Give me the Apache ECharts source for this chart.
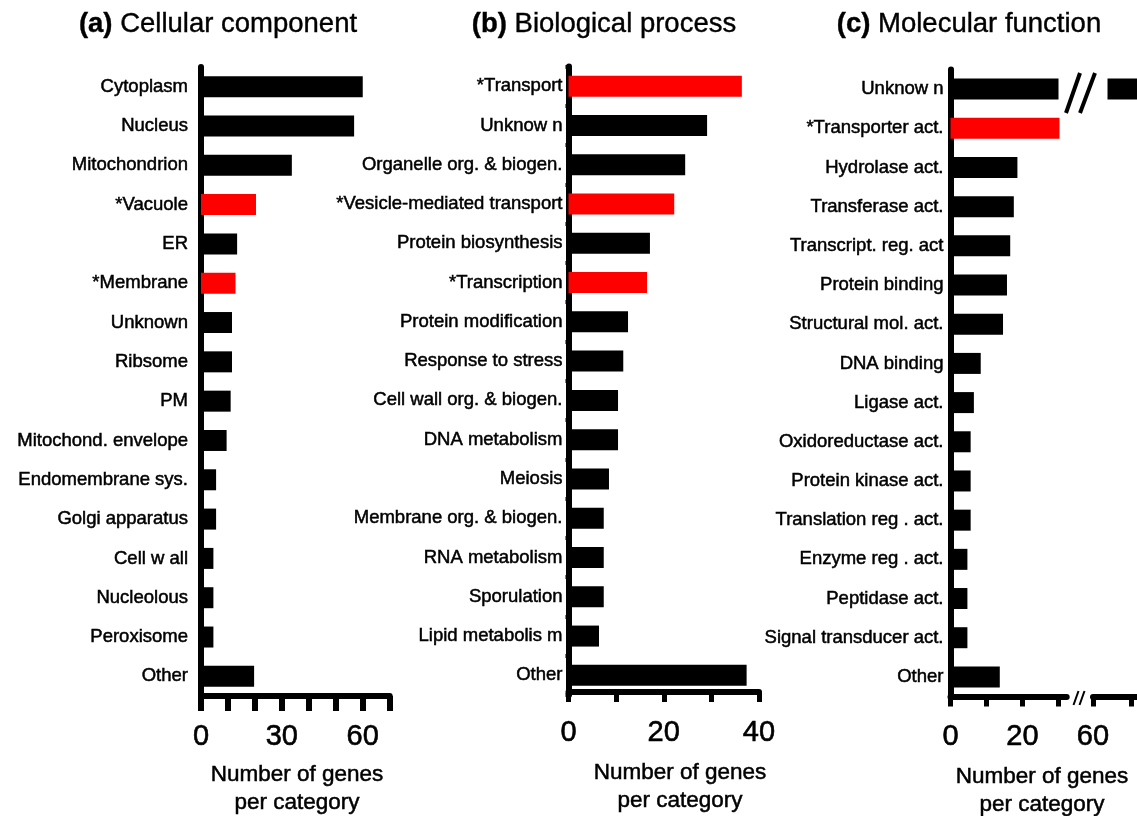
<!DOCTYPE html>
<html>
<head>
<meta charset="utf-8">
<script src="https://cdn.jsdelivr.net/npm/echarts@6/dist/echarts.min.js"></script>
<style>
  html, body { margin: 0; padding: 0; background: #fff; }
  #chart { width: 1137px; height: 816px; }
</style>
</head>
<body>
<div id="chart"></div>
<script>
// (a) Cellular component
const cellCategories = ['Cytoplasm', 'Nucleus', 'Mitochondrion', '*Vacuole', 'ER', '*Membrane', 'Unknown',
  'Ribsome', 'PM', 'Mitochond. envelope', 'Endomembrane sys.', 'Golgi apparatus', 'Cell w all',
  'Nucleolous', 'Peroxisome', 'Other'];
const cellCounts = [60.0, 56.8, 33.7, 20.4, 13.4, 12.8, 11.5, 11.5, 11.0, 9.5, 5.6, 5.6, 4.6, 4.6, 4.6, 19.7];
const cellTickLabels = [0, 30, 60];

// (b) Biological process
const procCategories = ['*Transport', 'Unknow n', 'Organelle org. & biogen.', '*Vesicle-mediated transport',
  'Protein biosynthesis', '*Transcription', 'Protein modification', 'Response to stress',
  'Cell wall org. & biogen.', 'DNA metabolism', 'Meiosis', 'Membrane org. & biogen.', 'RNA metabolism',
  'Sporulation', 'Lipid metabolis m', 'Other'];
const procCounts = [36.4, 29.1, 24.5, 22.2, 17.1, 16.5, 12.5, 11.5, 10.4, 10.4, 8.5, 7.4, 7.4, 7.4, 6.4, 37.4];
const procTickLabels = [0, 20, 40];

// (c) Molecular function
const funcCategories = ['Unknow n', '*Transporter act.', 'Hydrolase act.', 'Transferase act.',
  'Transcript. reg. act', 'Protein binding', 'Structural mol. act.', 'DNA binding', 'Ligase act.',
  'Oxidoreductase act.', 'Protein kinase act.', 'Translation reg . act.', 'Enzyme reg . act.',
  'Peptidase act.', 'Signal transducer act.', 'Other'];
const funcCounts = [72, 30.3, 18.6, 17.6, 16.6, 15.7, 14.6, 8.4, 6.5, 5.6, 5.6, 5.6, 4.7, 4.7, 4.7, 13.7];
const funcTickLabelsLow = [0, 20];
const funcTickLabelsHigh = [60];

const FONT = "'Liberation Sans', Arial, Helvetica, sans-serif";
const RED = '#ff0000';
const BLACK = '#000000';

// starred categories are highlighted in red
function toBars(categories, counts) {
  return counts.map((v, i) => ({
    value: v,
    itemStyle: { color: categories[i].startsWith('*') ? RED : BLACK }
  }));
}

function valueAxis(gridIndex, min, max, tickValues, labelValues, tickLen, tickWidth, extra) {
  return Object.assign({
    gridIndex, type: 'value', min, max,
    axisLine: { show: true, onZero: false, lineStyle: { color: BLACK, width: 6 } },
    axisTick: { show: true, customValues: tickValues, length: tickLen, lineStyle: { color: BLACK, width: tickWidth } },
    axisLabel: { show: true, customValues: labelValues, margin: 26, fontSize: 29, color: BLACK, fontFamily: FONT,
      textBorderColor: BLACK, textBorderWidth: 0.6 },
    splitLine: { show: false }
  }, extra || {});
}

function categoryAxis(gridIndex, data, margin, ticks) {
  return {
    gridIndex, type: 'category', data, inverse: true,
    axisLine: { show: true, lineStyle: { color: BLACK, width: 6 } },
    axisTick: ticks ? { show: true, length: 3, lineStyle: { color: BLACK, width: 4 } } : { show: false },
    axisLabel: { interval: 0, margin, fontSize: 18.5, color: BLACK, fontFamily: FONT,
      textBorderColor: BLACK, textBorderWidth: 0.5 }
  };
}

const range = (a, b, s) => { const r = []; for (let v = a; v <= b; v += s) r.push(v); return r; };

const axisName = (x, y) => ({
  type: 'text', x, y, z: 100,
  style: { text: 'Number of genes\nper category', fill: BLACK, stroke: BLACK, lineWidth: 0.5,
    font: '22.5px ' + FONT, align: 'center', verticalAlign: 'top', lineHeight: 28 }
});

const panelTitle = (x, tag, text) => ({
  type: 'text', x, y: 24, z: 100,
  style: {
    text: '{b|' + tag + '} ' + text, fill: BLACK, stroke: BLACK, lineWidth: 0.4,
    font: '27.5px ' + FONT, align: 'center', verticalAlign: 'middle',
    rich: { b: { fontWeight: 'bold', fontSize: 27.5, fontFamily: FONT, fill: BLACK } }
  }
});

const option = {
  backgroundColor: '#ffffff',
  animation: false,
  grid: [
    { left: 201, top: 67, width: 188.7, height: 629, outerBoundsMode: 'none' },
    { left: 568.5, top: 66.5, width: 190.5, height: 628.5, outerBoundsMode: 'none' },
    { left: 950.5, top: 69.5, width: 116.2, height: 627, outerBoundsMode: 'none' },
    { left: 1093, top: 69.5, width: 44, height: 627, outerBoundsMode: 'none' }
  ],
  xAxis: [
    valueAxis(0, 0, 70, range(0, 70, 10), cellTickLabels, 15, 6),
    valueAxis(1, 0, 40, range(0, 40, 10), procTickLabels, 10, 5, { offset: -3 }),
    valueAxis(2, 0, 32.3, range(0, 30, 10), funcTickLabelsLow, 10, 5),
    valueAxis(3, 60, 71.6, [60, 70], funcTickLabelsHigh, 10, 5)
  ],
  yAxis: [
    categoryAxis(0, cellCategories, 13, false),
    categoryAxis(1, procCategories, 6, true),
    categoryAxis(2, funcCategories, 7, false),
    { gridIndex: 3, type: 'category', data: funcCategories, inverse: true, show: false }
  ],
  series: [
    { type: 'bar', xAxisIndex: 0, yAxisIndex: 0, barWidth: 21, clip: true, data: toBars(cellCategories, cellCounts) },
    { type: 'bar', xAxisIndex: 1, yAxisIndex: 1, barWidth: 21, clip: true, data: toBars(procCategories, procCounts) },
    { type: 'bar', xAxisIndex: 2, yAxisIndex: 2, barWidth: 21, clip: true, data: toBars(funcCategories, funcCounts) },
    { type: 'bar', xAxisIndex: 3, yAxisIndex: 3, barWidth: 21, clip: true, data: toBars(funcCategories, funcCounts) }
  ],
  graphic: [
    panelTitle(218, '(a)', 'Cellular component'),
    panelTitle(604, '(b)', 'Biological process'),
    panelTitle(969, '(c)', 'Molecular function'),
    axisName(297, 761),
    axisName(680, 759),
    axisName(1042, 763),
    // break in the long bar of panel (c)
    { type: 'rect', z: 100, shape: { x: 1058.5, y: 74, width: 49, height: 30 }, style: { fill: '#ffffff' } },
    { type: 'line', z: 101, shape: { x1: 1066, y1: 113, x2: 1080, y2: 73 }, style: { stroke: BLACK, lineWidth: 4 } },
    { type: 'line', z: 101, shape: { x1: 1080, y1: 113, x2: 1095, y2: 73 }, style: { stroke: BLACK, lineWidth: 4 } },
    // break in the value axis of panel (c)
    { type: 'line', z: 101, shape: { x1: 1073.5, y1: 705, x2: 1078.5, y2: 691 }, style: { stroke: BLACK, lineWidth: 2 } },
    { type: 'line', z: 101, shape: { x1: 1079.5, y1: 705, x2: 1084.5, y2: 691 }, style: { stroke: BLACK, lineWidth: 2 } }
  ]
};

const chart = echarts.init(document.getElementById('chart'), null, { renderer: 'canvas' });
chart.setOption(option);
</script>
</body>
</html>
